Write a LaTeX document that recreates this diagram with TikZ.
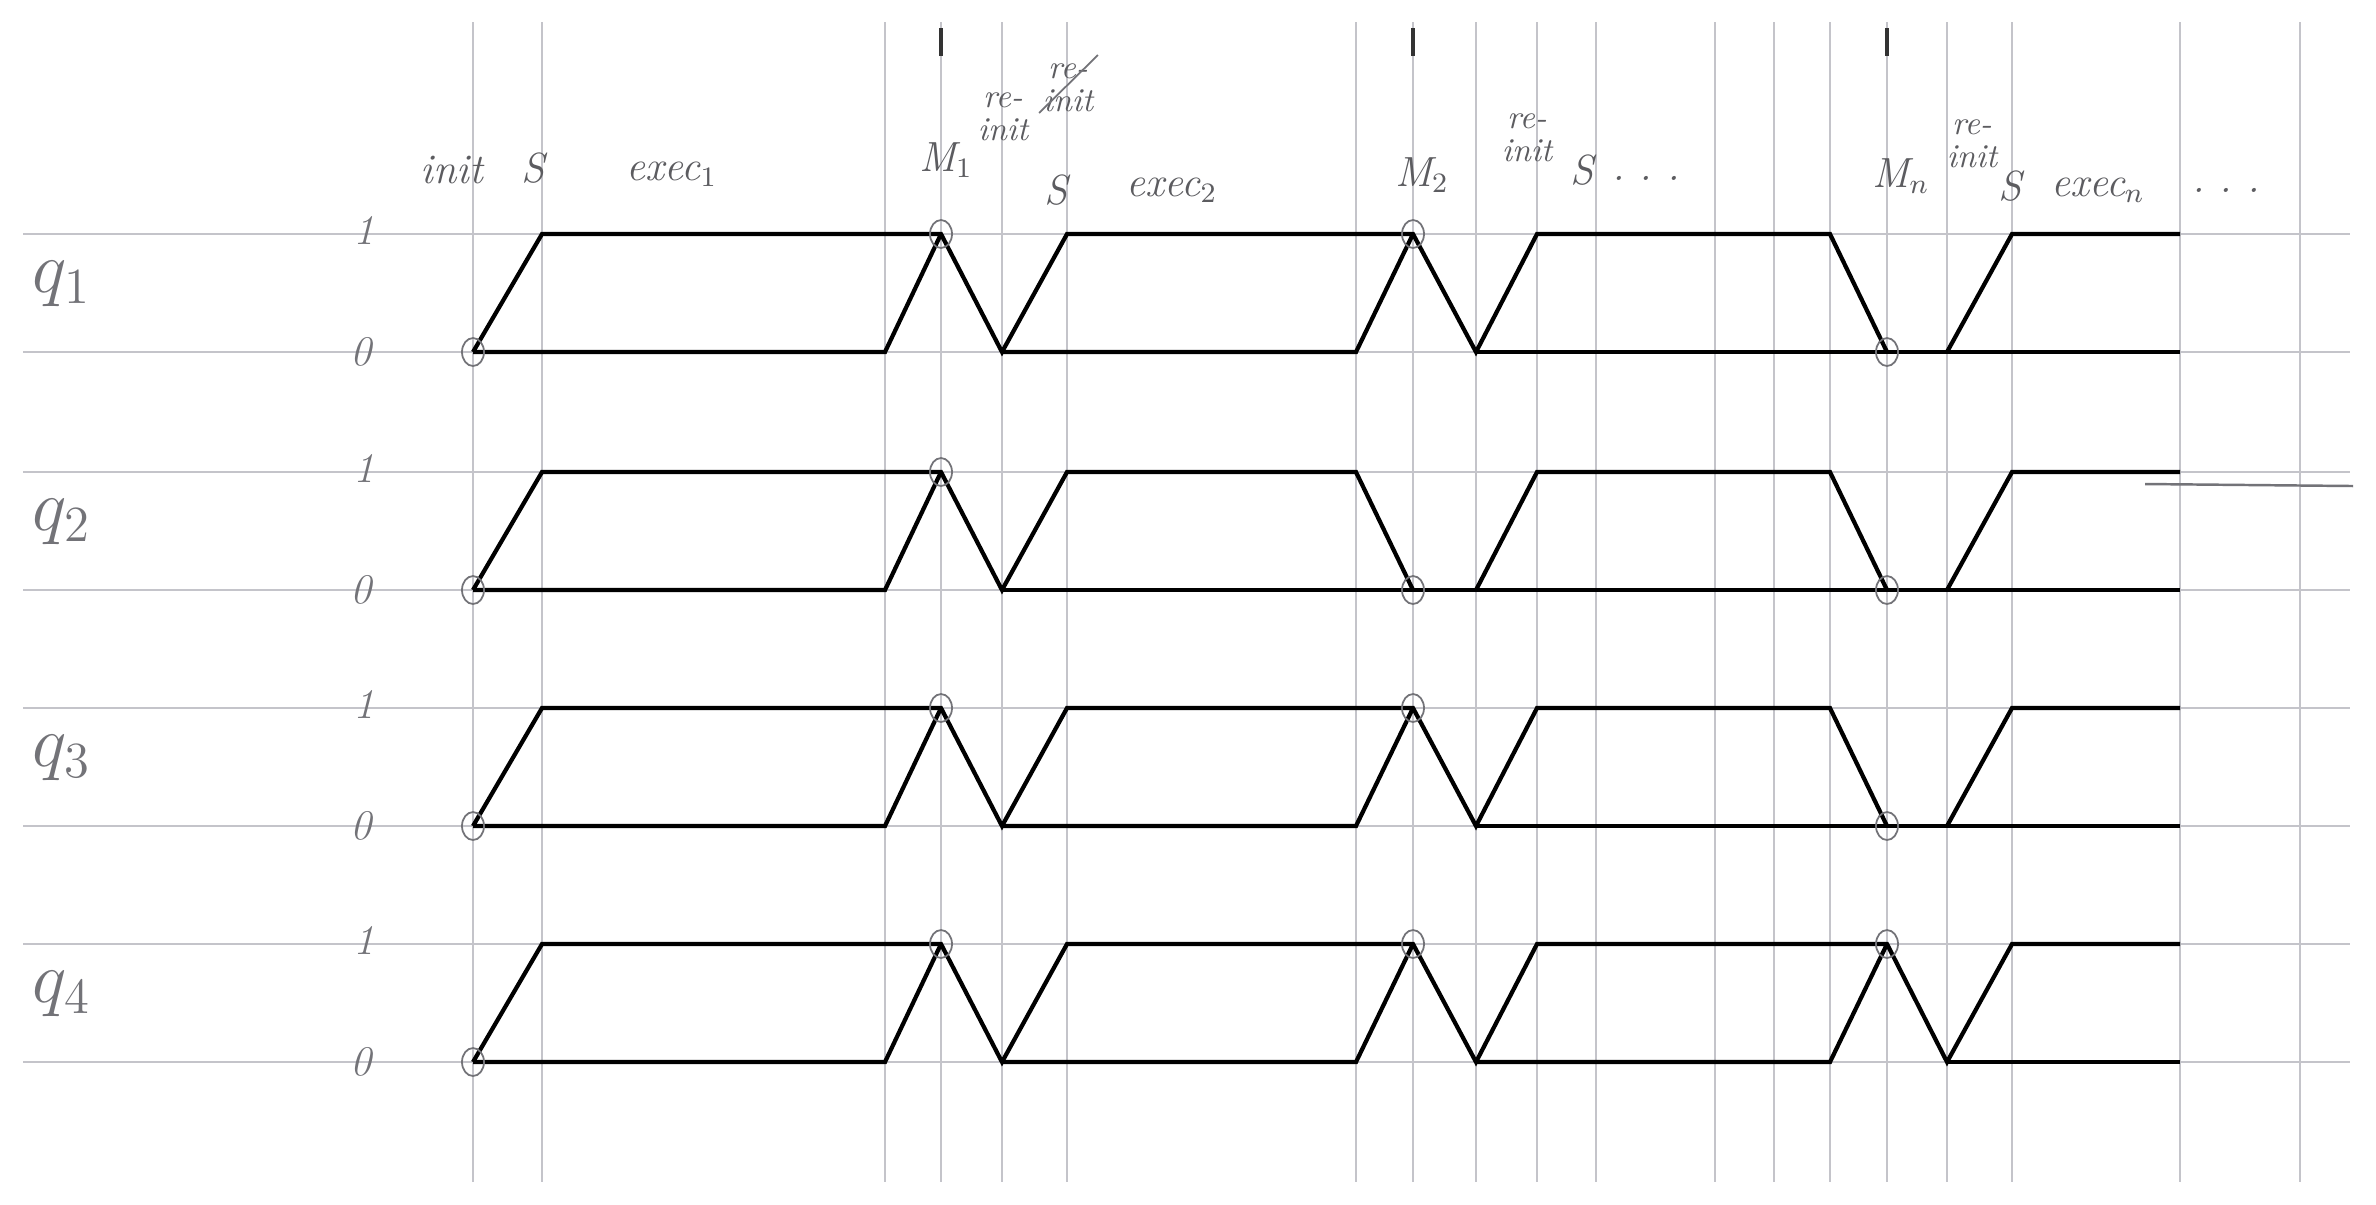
\documentclass[tikz,border=0pt]{standalone}
\usepackage{amsmath}
\usepackage{tikz}
\usetikzlibrary{positioning}
\definecolor{pencil}{RGB}{115,115,120}
\definecolor{lead}{RGB}{196,196,202}
\tikzset{
  paperline/.style={draw=lead,line width=0.45pt},
  wave/.style={draw=black,line width=1.2pt,line join=miter},
  ring/.style={draw=pencil,line width=0.5pt},
  cue/.style={draw=black!80,line width=1.3pt},
  hand/.style={text=pencil!80!black,font=\itshape\fontsize{12}{13}\selectfont,inner sep=1pt},
  note/.style={text=pencil!80!black,font=\itshape\fontsize{9.5}{9.5}\selectfont,inner sep=0pt,align=center},
  lvl/.style={text=pencil,font=\itshape\fontsize{12}{13}\selectfont,inner sep=1pt},
  qlbl/.style={text=pencil,font=\fontsize{20}{22}\selectfont,inner sep=1pt},
}

\begin{document}
\begin{tikzpicture}[x=0.1mm,y=-0.1mm]
  \useasboundingbox (0,0) rectangle (2376,1204);
  \fill[white] (0,0) rectangle (2376,1204);

  % paper: time lines and level lines
  \foreach \x in {473,542,885,941,1002,1067,1356,1413,1476,1537,1596,1715,1774,1830,1887,1947,2012,2180,2300}
    \draw[paperline] (\x,22) -- (\x,1182);
  \foreach \y in {234,352,472,590,708,826,944,1062}
    \draw[paperline] (23,\y) -- (2350,\y);

  % measurement cues
  \foreach \x in {941,1413,1887}
    \draw[cue] (\x,28) -- (\x,56);

  % header
  \node[hand] (init) at (452,170) {init};
  \node[hand] (s1) at (533,168) {S};
  \node[hand] (exec1) at (672,174) {exec$_1$};
  \node[hand] (m1) at (946,160) {M$_1$};
  \node[note] (reinit1) at (1003,117) {re-\\init};
  \node[note] (reinit1b) at (1068,88) {re-\\init};
  \draw[pencil,line width=0.5pt] ([xshift=0.4mm,yshift=0.8mm]reinit1b.north east)
    -- ([xshift=-0.3mm]reinit1b.south west);
  \node[hand] (s2) at (1056,190) {S};
  \node[hand] (exec2) at (1172,190) {exec$_2$};
  \node[hand] (m2) at (1422,175) {M$_2$};
  \node[note] (reinit2) at (1527,138) {re-\\init};
  \node[hand] (s3) at (1582,170) {S};
  \node[hand] (dots3) at (1646,178) {.\ .\ .};
  \node[hand] (mn) at (1901,176) {M$_n$};
  \node[note] (reinitn) at (1972,144) {re-\\init};
  \node[hand] (sn) at (2010,186) {S};
  \node[hand] (execn) at (2098,190) {exec$_n$};
  \node[hand] (dotsn) at (2226,190) {.\ .\ .};

  % row labels and levels
  \foreach \r/\hi in {1/234,2/472,3/708,4/944}{
    \node[qlbl] (q\r) at (62,\hi+50) {$q_{\r}$};
    \node[lvl] (one\r) at (364,\hi-4) {1};
    \node[lvl] (zero\r) at (361,\hi+118) {0};
  }

  % q1 and q3
  \foreach \hi in {234,708}{
    \begin{scope}[shift={(0,\hi)}]
      \draw[wave] (473,118) -- (542,0) -- (941,0) -- (1002,118) -- (1067,0) -- (1413,0)
        -- (1476,118) -- (1537,0) -- (1830,0) -- (1887,118);
      \draw[wave] (473,118) -- (885,118) -- (941,0);
      \draw[wave] (1002,118) -- (1356,118) -- (1413,0);
      \draw[wave] (1476,118) -- (2180,118);
      \draw[wave] (1947,118) -- (2012,0) -- (2180,0);
      \foreach \p in {(473,118),(941,0),(1413,0),(1887,118)}
        \draw[ring] \p ellipse [x radius=11,y radius=14];
    \end{scope}
  }

  % q2
  \begin{scope}[shift={(0,472)}]
    \draw[wave] (473,118) -- (542,0) -- (941,0) -- (1002,118) -- (1067,0) -- (1356,0) -- (1413,118);
    \draw[wave] (473,118) -- (885,118) -- (941,0);
    \draw[wave] (1002,118) -- (2180,118);
    \draw[wave] (1476,118) -- (1537,0) -- (1830,0) -- (1887,118);
    \draw[wave] (1947,118) -- (2012,0) -- (2180,0);
    \draw[pencil,line width=0.7pt] (2145,12) -- (2353,14);
    \foreach \p in {(473,118),(941,0),(1413,118),(1887,118)}
      \draw[ring] \p ellipse [x radius=11,y radius=14];
  \end{scope}

  % q4
  \begin{scope}[shift={(0,944)}]
    \draw[wave] (473,118) -- (542,0) -- (941,0) -- (1002,118) -- (1067,0) -- (1413,0) -- (1476,118)
      -- (1537,0) -- (1887,0) -- (1947,118) -- (2012,0) -- (2180,0);
    \draw[wave] (473,118) -- (885,118) -- (941,0);
    \draw[wave] (1002,118) -- (1356,118) -- (1413,0);
    \draw[wave] (1476,118) -- (1830,118) -- (1887,0);
    \draw[wave] (1947,118) -- (2180,118);
    \foreach \p in {(473,118),(941,0),(1413,0),(1887,0)}
      \draw[ring] \p ellipse [x radius=11,y radius=14];
  \end{scope}
\end{tikzpicture}
\end{document}
